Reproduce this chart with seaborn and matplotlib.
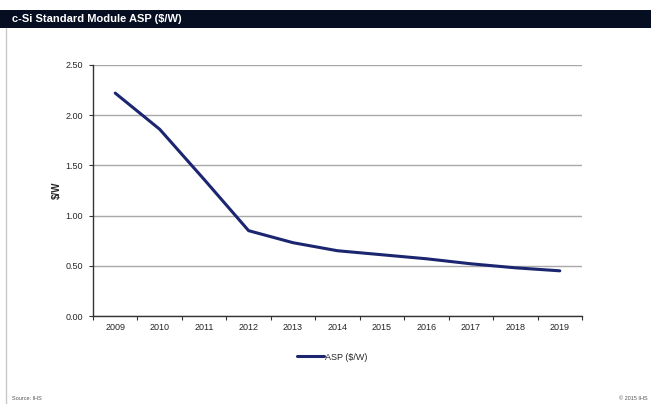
import matplotlib
matplotlib.use("Agg")
import matplotlib.pyplot as plt
import seaborn as sns
import pandas as pd
import numpy as np
from matplotlib.lines import Line2D

years = ["2009", "2010", "2011", "2012", "2013", "2014", "2015", "2016", "2017", "2018", "2019"]
asp = [2.22, 1.86, 1.36, 0.85, 0.73, 0.65, 0.61, 0.57, 0.52, 0.48, 0.45]
y_ticks = [0.0, 0.5, 1.0, 1.5, 2.0, 2.5]
y_tick_labels = ["0.00", "0.50", "1.00", "1.50", "2.00", "2.50"]
title = "c-Si Standard Module ASP ($/W)"
series_name = "ASP ($/W)"

sns.set_theme(style="white")
plt.rcParams["font.family"] = ["Liberation Sans", "DejaVu Sans"]

df = pd.DataFrame({"year": years, "value": asp})

fig = plt.figure(figsize=(6.51, 4.04), dpi=100)
fig.patch.set_facecolor("white")

# header bar
fig.patches.append(matplotlib.patches.Rectangle((0, 1 - 28/404), 1, 18/404, transform=fig.transFigure,
                                                facecolor="#060f22", edgecolor="none", zorder=0))
fig.text(12/651, 1 - 19/404, title, color="white", fontsize=8, fontweight="bold", va="center", ha="left")
# left border line
fig.lines.append(Line2D([6/651, 6/651], [0, 1 - 28/404], transform=fig.transFigure, color="#c8c8c8", lw=1))

ax = fig.add_axes([93/651, 1 - 316/404, (582 - 93)/651, (316 - 65)/404])
ax.set_facecolor("white")
pos = np.arange(len(years))
sns.lineplot(x=pos, y=df["value"], ax=ax, color="#1b2570", lw=2.2, legend=False)

ax.set_xlim(-0.5, len(years) - 0.5)
ax.set_ylim(0, 2.5)
ax.set_yticks(y_ticks)
ax.set_yticklabels(y_tick_labels, fontsize=6.5)
ax.set_xticks(pos)
ax.set_xticklabels(years, fontsize=6.5)
ax.set_xticks(np.arange(-0.5, len(years)), minor=True)
ax.tick_params(axis="x", which="major", length=0, pad=5)
ax.tick_params(axis="x", which="minor", length=3, width=0.8, color="#333333", direction="out", bottom=True)
ax.tick_params(axis="y", which="major", length=3, width=0.8, color="#333333", direction="out", left=True, pad=4)
ax.yaxis.grid(True, color="#a8a8a8", lw=1)
ax.xaxis.grid(False)
for s in ["top", "right"]:
    ax.spines[s].set_visible(False)
for s in ["left", "bottom"]:
    ax.spines[s].set_color("#333333")
    ax.spines[s].set_linewidth(1)
ax.set_xlabel("")
ax.set_ylabel("$/W", fontsize=7, fontweight="bold", labelpad=3)

handle = Line2D([], [], color="#1b2570", lw=2.2)
fig.legend([handle], [series_name], loc="center", bbox_to_anchor=(332/651, 1 - 357/404),
           frameon=False, fontsize=6.5, handlelength=3, handletextpad=0.1)

fig.text(12/651, 1 - 398/404, "Source: IHS", fontsize=4, color="#555555", ha="left", va="center")
fig.text(648/651, 1 - 398/404, "© 2015 IHS", fontsize=4, color="#555555", ha="right", va="center")

fig.savefig("out.png", dpi=100)
